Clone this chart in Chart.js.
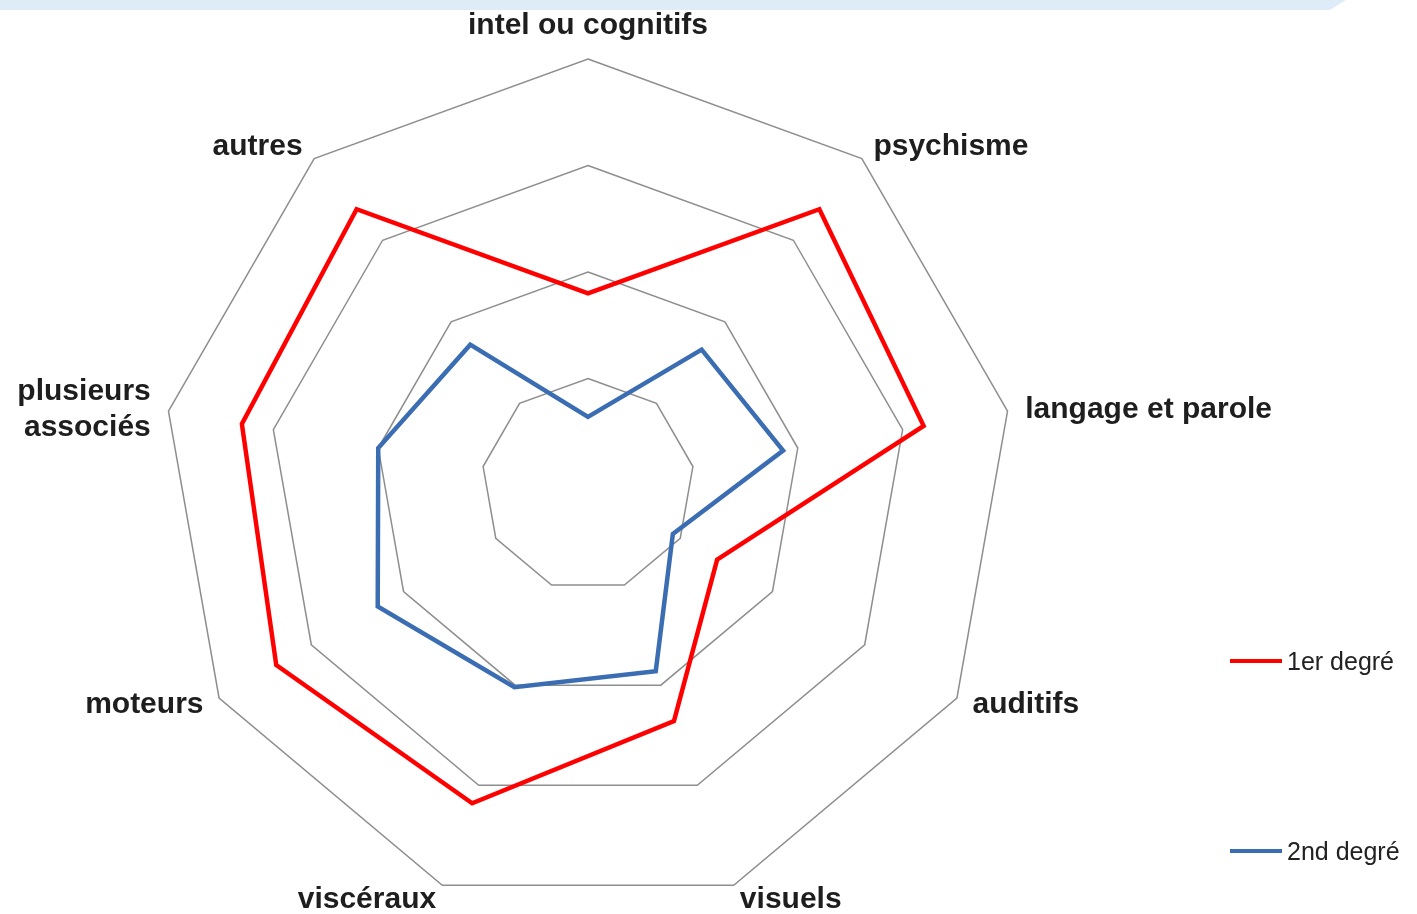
<!DOCTYPE html>
<html>
<head>
<meta charset="utf-8">
<script src="https://cdn.jsdelivr.net/npm/chart.js@4"></script>
<style>
  body { margin: 0; background: #fff; overflow: hidden; }
  #wrap { position: relative; width: 1417px; height: 914px; }
  #band {
    position: absolute; left: 0; top: 0; width: 1346px; height: 10px;
    background: #deecf8;
    clip-path: polygon(0 0, 1346px 0, 1330px 10px, 0 10px);
  }
  canvas { position: absolute; left: 0; top: 0; }
  .legend-item {
    position: absolute; left: 1230px; height: 30px;
    font: 25px "Liberation Sans", Arial, sans-serif; color: #222;
    display: flex; align-items: center; white-space: nowrap;
  }
  .legend-item span.line { display: inline-block; width: 52px; height: 4px; margin-right: 5px; }
</style>
</head>
<body>
<div id="wrap">
  <div id="band"></div>
  <canvas id="chart" width="1417" height="914"></canvas>
</div>
<script>
// Axis labels (clockwise from the top)
const categories = [
    'intel ou cognitifs', 'psychisme', 'langage et parole', 'auditifs', 'visuels',
    'viscéraux', 'moteurs', ['plusieurs', 'associés'], 'autres'
];

// Series values (scale 0-20)
const premierDegre = [9.0, 16.9, 16.0, 7.0, 11.8, 15.9, 16.9, 16.5, 16.9];
const secondDegre = [3.2, 8.3, 9.3, 4.6, 9.3, 10.1, 11.4, 10.0, 8.6];

const seriesNames = ['1er degré', '2nd degré'];
const seriesColors = ['#ff0000', '#3b6db3'];
const legendRows = [661, 851];

// Draws the axis labels just outside the outer ring
const labelPlugin = {
    id: 'outerLabels',
    afterDraw(chart) {
        const scale = chart.scales.r;
        const ctx = chart.ctx;
        ctx.save();
        ctx.fillStyle = '#1e1e1e';
        ctx.font = 'bold 30px "Liberation Sans", Arial, sans-serif';
        categories.forEach((label, i) => {
            const pos = scale.getPointPosition(i, scale.drawingArea + 18);
            const lines = Array.isArray(label) ? label : [label];
            const dx = pos.x - scale.xCenter;
            ctx.textAlign = dx > 2 ? 'left' : (dx < -2 ? 'right' : 'center');
            let y = pos.y;
            if (Math.abs(dx) <= 2) {
                ctx.textBaseline = 'bottom';
            } else {
                ctx.textBaseline = 'middle';
                y += (pos.y < scale.yCenter ? 2 : -2) - (lines.length - 1) * 18;
            }
            lines.forEach((line, j) => ctx.fillText(line, pos.x, y + j * 36));
        });
        ctx.restore();
    }
};

const ctx = document.getElementById('chart').getContext('2d');
const chart = new Chart(ctx, {
    type: 'radar',
    data: {
        labels: categories,
        datasets: [
            { label: seriesNames[0], data: premierDegre, borderColor: seriesColors[0], borderWidth: 4.5, fill: false, pointRadius: 0 },
            { label: seriesNames[1], data: secondDegre, borderColor: seriesColors[1], borderWidth: 4.5, fill: false, pointRadius: 0 }
        ]
    },
    options: {
        responsive: false,
        animation: false,
        layout: { padding: { left: 162, top: 59, right: 403, bottom: 3 } },
        plugins: { legend: { display: false }, tooltip: { enabled: false } },
        scales: {
            r: {
                min: 0,
                max: 20,
                ticks: { display: false, stepSize: 5 },
                angleLines: { display: false },
                grid: { color: '#8e8e8e', lineWidth: 1.5 },
                pointLabels: { display: false }
            }
        }
    },
    plugins: [labelPlugin]
});

// Legend on the right
const wrap = document.getElementById('wrap');
chart.data.datasets.forEach((ds, i) => {
    const item = document.createElement('div');
    item.className = 'legend-item';
    item.style.top = (legendRows[i] - 15) + 'px';
    const line = document.createElement('span');
    line.className = 'line';
    line.style.background = ds.borderColor;
    item.appendChild(line);
    item.appendChild(document.createTextNode(ds.label));
    wrap.appendChild(item);
});
</script>
</body>
</html>
